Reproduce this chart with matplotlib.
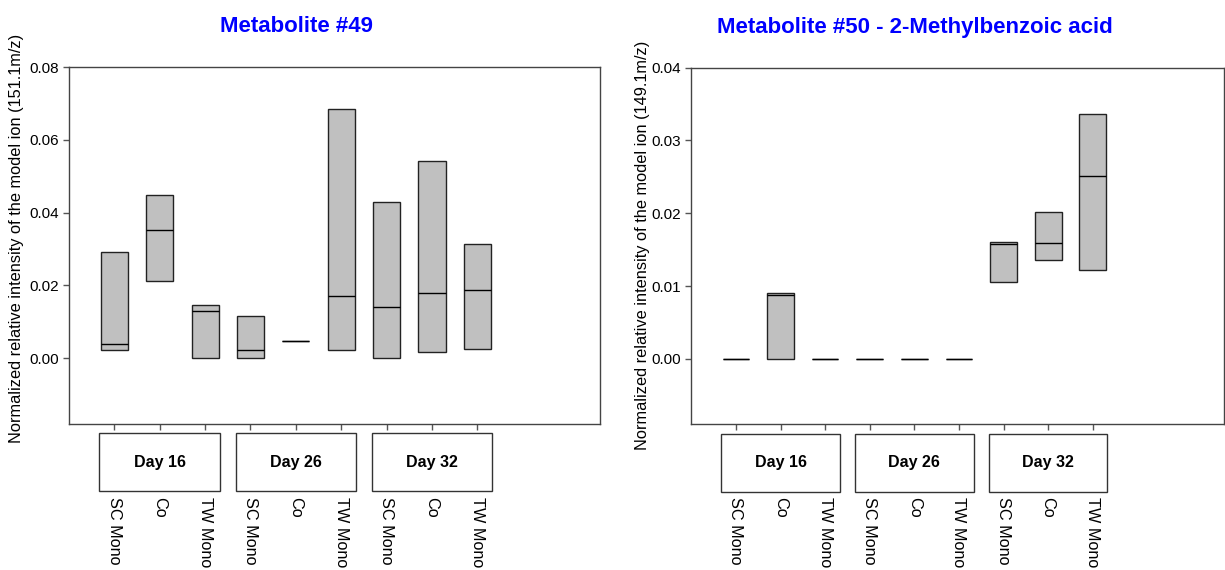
import matplotlib
matplotlib.use("Agg")
import matplotlib.pyplot as plt
import matplotlib.transforms as mtransforms
from matplotlib.patches import Rectangle

plt.rcParams['font.family'] = ['Liberation Sans', 'DejaVu Sans']

# categories
groups = ["SC Mono", "Co", "TW Mono"]
days = ["Day 16", "Day 26", "Day 32"]
positions = list(range(1, 10))

# Metabolite #49 (151.1 m/z): box bottom / median / top
m49_low = [0.0023, 0.0213, 0.0000, 0.0000, 0.0047, 0.0023, 0.0000, 0.0016, 0.0025]
m49_med = [0.0038, 0.0351, 0.0130, 0.0022, 0.0047, 0.0170, 0.0141, 0.0180, 0.0188]
m49_high = [0.0292, 0.0448, 0.0147, 0.0117, 0.0047, 0.0685, 0.0429, 0.0543, 0.0313]

# Metabolite #50 (149.1 m/z)
m50_low = [0.0, 0.0, 0.0, 0.0, 0.0, 0.0, 0.0105, 0.0136, 0.0122]
m50_med = [0.0, 0.0087, 0.0, 0.0, 0.0, 0.0, 0.0158, 0.0159, 0.0251]
m50_high = [0.0, 0.0091, 0.0, 0.0, 0.0, 0.0, 0.0160, 0.0202, 0.0337]

W, H = 1225, 570
fig = plt.figure(figsize=(W / 100, H / 100), dpi=100)


def draw_panel(rect, low, med, high, ylim, yticks, xmax, title, title_x, ylabel, ylabel_x, ylabel_y):
    x0, y0, x1, y1 = rect
    ax = fig.add_axes([x0 / W, 1 - y1 / H, (x1 - x0) / W, (y1 - y0) / H])
    heights = [h - l for h, l in zip(high, low)]
    ax.bar(positions, heights, bottom=low, width=0.6, color='#c0c0c0',
           edgecolor='#222222', linewidth=1.0, zorder=2)
    ax.hlines(med, [p - 0.3 for p in positions], [p + 0.3 for p in positions],
              color='black', linewidth=1.0, zorder=3)
    ax.set_xlim(0, xmax)
    ax.set_ylim(*ylim)
    ax.set_yticks(yticks)
    ax.set_yticklabels([f"{t:.2f}" for t in yticks], fontsize=11)
    ax.set_xticks(positions)
    ax.set_xticklabels([])
    ax.tick_params(axis='both', direction='out', length=4, width=1, color='#555555')
    for s in ax.spines.values():
        s.set_color('#444444')
        s.set_linewidth(1.0)

    trans = mtransforms.blended_transform_factory(ax.transData, ax.transAxes)
    for i, d in enumerate(days):
        c = 2 + 3 * i
        ax.add_patch(Rectangle((c - 1.33, -0.189), 2.66, 0.162, transform=trans,
                               facecolor='white', edgecolor='#333333', linewidth=1.0,
                               clip_on=False))
        ax.text(c, -0.108, d, transform=trans, ha='center', va='center',
                fontsize=11.5, fontweight='bold')
    for i, p in enumerate(positions):
        ax.text(p, -0.205, groups[i % 3], transform=trans, rotation=-90,
                ha='center', va='top', fontsize=11.7)

    fig.text(title_x / W, 1 - 27 / H, title, ha='center', va='center',
             fontsize=16, fontweight='bold', color='#0000ff')
    fig.text(ylabel_x / W, 1 - ylabel_y / H, ylabel, rotation=90,
             ha='center', va='center', fontsize=11.8)
    return ax


draw_panel((69, 67, 600.3, 423.7), m49_low, m49_med, m49_high,
           (-0.018, 0.08), [0.0, 0.02, 0.04, 0.06, 0.08], 11.71,
           "Metabolite #49", 296,
           "Normalized relative intensity of the model ion (151.1m/z)", 16.5, 238)

draw_panel((691.3, 67.7, 1224.3, 424.3), m50_low, m50_med, m50_high,
           (-0.009, 0.04), [0.0, 0.01, 0.02, 0.03, 0.04], 11.95,
           "Metabolite #50 - 2-Methylbenzoic acid", 915,
           "Normalized relative intensity of the model ion (149.1m/z)", 642, 245)

fig.savefig("out.png", dpi=100)
